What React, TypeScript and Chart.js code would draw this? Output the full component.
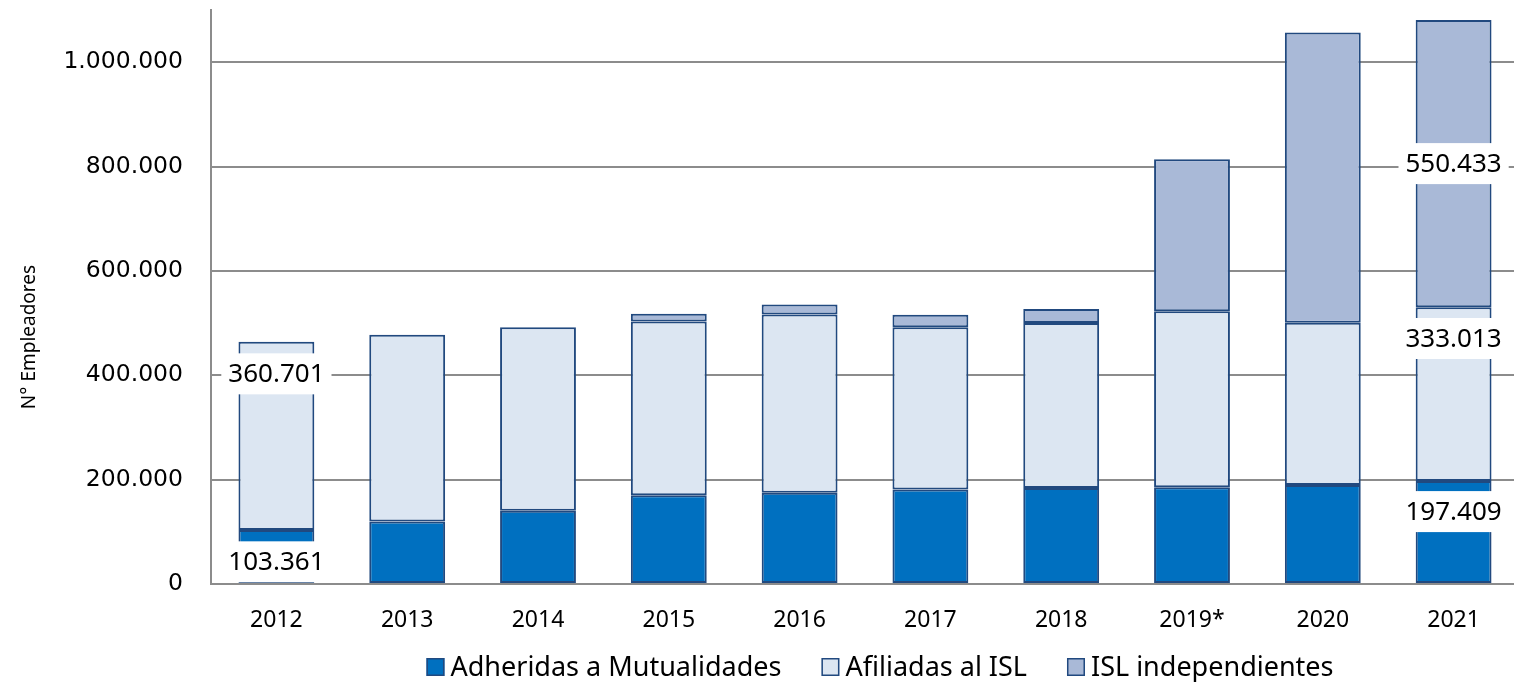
import React, { useEffect, useRef } from "react";
import { Chart, registerables } from "chart.js";

Chart.register(...registerables);

const categories = ["2012", "2013", "2014", "2015", "2016", "2017", "2018", "2019*", "2020", "2021"];
const adheridas = [103361, 119600, 140600, 170000, 174700, 180900, 184100, 185300, 189700, 197409];
const afiliadas = [360701, 358000, 351400, 333000, 342000, 311000, 316000, 337300, 310800, 333013];
const islIndependientes = [0, 0, 0, 14700, 19000, 24000, 27000, 291200, 556400, 550433];
const seriesNames = ["Adheridas a Mutualidades", "Afiliadas al ISL", "ISL independientes"];
const yTicks = [0, 200000, 400000, 600000, 800000, 1000000];

// data labels: which dataset / category, and relative height within the segment
const labelDataset = [0, 1, 0, 1, 2];
const labelIndex = [0, 0, 9, 9, 9];
const labelFrac = [0.4, 0.83, 0.7, 0.82, 0.5];

const COLORS = ["#0070C0", "#DCE6F2", "#A9B9D7"];
const BORDER = "#21497F";
const GRID = "#8c8c8c";

const fmt = (v: number) =>
  Math.round(v).toString().replace(/\B(?=(\d{3})+(?!\d))/g, ".");

const labelsPlugin = {
  id: "segLabels",
  afterDatasetsDraw(chart: any) {
    const ctx = chart.ctx;
    ctx.save();
    ctx.font = "26px 'Noto Sans'";
    ctx.textAlign = "center";
    ctx.textBaseline = "middle";
    for (let i = 0; i < labelDataset.length; i++) {
      const ds = labelDataset[i];
      const idx = labelIndex[i];
      const el: any = chart.getDatasetMeta(ds).data[idx];
      const value = chart.data.datasets[ds].data[idx] as number;
      const text = fmt(value);
      const y = el.base - labelFrac[i] * (el.base - el.y);
      const w = ctx.measureText(text).width + 14;
      const h = 41;
      ctx.fillStyle = "#ffffff";
      ctx.fillRect(el.x - w / 2, y - h / 2, w, h);
      ctx.fillStyle = "#000000";
      ctx.fillText(text, el.x, y + 1);
    }
    ctx.restore();
  },
};

const legendPlugin = {
  id: "customLegend",
  afterDraw(chart: any) {
    const ctx = chart.ctx;
    ctx.save();
    ctx.font = "27px 'Noto Sans'";
    const box = 18;
    const gapBoxText = 6;
    const gapItems = 40;
    const widths = seriesNames.map((n) => ctx.measureText(n).width);
    const total =
      widths.reduce((a, b) => a + b, 0) +
      seriesNames.length * (box + gapBoxText) +
      (seriesNames.length - 1) * gapItems;
    const centerX = 880;
    let x = centerX - total / 2;
    const baseline = 676;
    seriesNames.forEach((n, i) => {
      ctx.fillStyle = COLORS[i];
      ctx.fillRect(x, baseline - box, box, box);
      ctx.strokeStyle = BORDER;
      ctx.lineWidth = 1.5;
      ctx.strokeRect(x + 0.75, baseline - box + 0.75, box - 1.5, box - 1.5);
      x += box + gapBoxText;
      ctx.fillStyle = "#000000";
      ctx.textBaseline = "alphabetic";
      ctx.textAlign = "left";
      ctx.fillText(n, x, baseline);
      x += widths[i] + gapItems;
    });
    // y axis title
    ctx.translate(30, 337);
    ctx.rotate(-Math.PI / 2);
    ctx.font = "19px 'Noto Sans'";
    ctx.textAlign = "center";
    ctx.textBaseline = "middle";
    ctx.fillStyle = "#000000";
    ctx.fillText("N° Empleadores", 0, 0);
    ctx.restore();
  },
};

export default function App() {
  const ref = useRef<HTMLCanvasElement | null>(null);

  useEffect(() => {
    document.body.style.margin = "0";
    if (!ref.current) return;
    const dsCommon = {
      borderColor: BORDER,
      borderWidth: 2,
      borderSkipped: false as const,
      barPercentage: 0.58,
      categoryPercentage: 1,
    };
    const chart = new Chart(ref.current, {
      type: "bar",
      data: {
        labels: categories,
        datasets: [
          { label: seriesNames[0], data: adheridas, backgroundColor: COLORS[0], ...dsCommon },
          { label: seriesNames[1], data: afiliadas, backgroundColor: COLORS[1], ...dsCommon },
          { label: seriesNames[2], data: islIndependientes, backgroundColor: COLORS[2], ...dsCommon },
        ],
      },
      options: {
        responsive: false,
        animation: false,
        layout: { padding: { top: 10, left: 0, right: 0, bottom: 48 } },
        plugins: {
          legend: { display: false },
          tooltip: { enabled: false },
        },
        scales: {
          x: {
            stacked: true,
            grid: { display: false, drawTicks: false },
            border: { display: true, color: GRID, width: 2 },
            ticks: {
              color: "#000000",
              padding: 23,
              font: { family: "'Noto Sans'", size: 23 },
            },
            afterFit: (s: any) => {
              s.height = 50;
              s.paddingLeft = 0;
              s.paddingRight = 0;
            },
          },
          y: {
            stacked: true,
            min: 0,
            max: 1100000,
            grid: { color: GRID, lineWidth: 2, drawTicks: false },
            border: { display: true, color: GRID, width: 2 },
            ticks: {
              color: "#000000",
              padding: 28,
              font: { family: "'DejaVu Sans'", size: 23.5 },
              callback: (v: any) => fmt(Number(v)),
            },
            afterBuildTicks: (s: any) => {
              s.ticks = yTicks.map((v) => ({ value: v }));
            },
            afterFit: (s: any) => {
              s.width = 211;
              s.paddingTop = 0;
              s.paddingBottom = 0;
            },
          },
        },
      },
      plugins: [labelsPlugin, legendPlugin],
    });
    return () => chart.destroy();
  }, []);

  return (
    <div style={{ width: 1514, height: 682, overflow: "hidden", background: "#fff" }}>
      <canvas ref={ref} width={1519} height={682} style={{ display: "block" }} />
    </div>
  );
}
